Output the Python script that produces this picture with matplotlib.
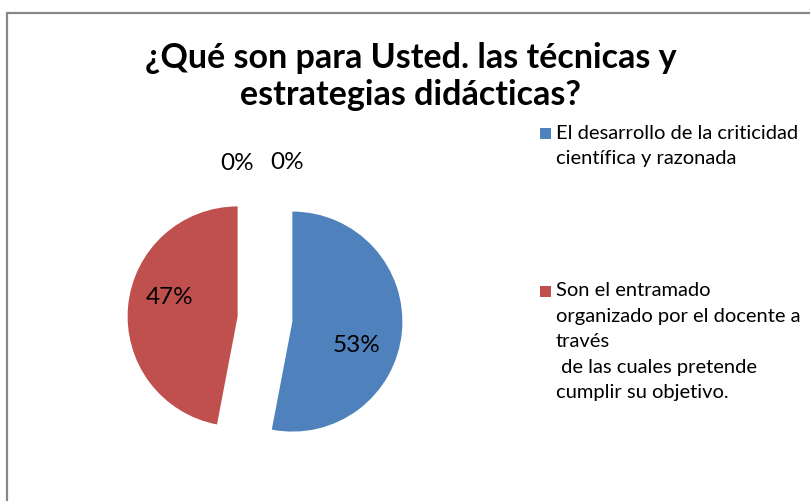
import matplotlib
matplotlib.use("Agg")
import matplotlib.pyplot as plt
from matplotlib.patches import Rectangle

title = "¿Qué son para Usted. las técnicas y\nestrategias didácticas?"
categories = [
    "El desarrollo de la criticidad\ncientífica y razonada",
    "Son el entramado\norganizado por el docente a\ntravés\n de las cuales pretende\ncumplir su objetivo.",
    "",
    "",
]
values = [53, 47, 0, 0]
colors = ["#4F81BD", "#C0504D", "#9BBB59", "#8064A2"]
explode = [0.25, 0.25, 0.25, 0.25]

W, H = 810, 501
R = 110
fig = plt.figure(figsize=(W / 100, H / 100), dpi=100)
ax = fig.add_axes([0, 0, 1, 1])

def py(y):
    return H - y

wedges, texts, autotexts = ax.pie(
    values, colors=colors, explode=[e * R for e in explode], startangle=90, counterclock=False,
    center=(265, py(319)), radius=R, autopct="%1.0f%%", pctdistance=0.6,
    textprops=dict(fontsize=17.5, family=["Lato", "DejaVu Sans"], color="black"),
    wedgeprops=dict(linewidth=0),
)
ax.set_xlim(0, W)
ax.set_ylim(0, H)
ax.set_aspect("equal")
ax.axis("off")

# chart frame
ax.add_patch(Rectangle((6.5, py(520)), 830, 507.5, fill=False, edgecolor="#888888", lw=1.6))

label_pos = [(357, 345), (170, 297), (237, 163), (287, 162)]
for t, (x, y) in zip(autotexts, label_pos):
    t.set_position((x, py(y)))
    t.set_ha("center")
    t.set_va("center")

title_baselines = [68, 105]
for line, yb in zip(title.split("\n"), title_baselines):
    ax.text(411, py(yb), line, ha="center", va="baseline", fontsize=24.5, fontweight="bold",
            family=["Lato", "DejaVu Sans"], color="black")

# legend (only named categories)
leg_y = [133, 291]
for i, (lab, col) in enumerate(zip(categories, colors)):
    if not lab:
        continue
    y = leg_y[i]
    ax.add_patch(Rectangle((540, py(y) - 5.5), 11, 11, facecolor=col, edgecolor="none"))
    ax.text(556, py(y) + 8.5, lab, ha="left", va="top", fontsize=14.5,
            family=["Lato", "DejaVu Sans"], linespacing=1.6, color="black")

fig.savefig("out.png", dpi=100)
